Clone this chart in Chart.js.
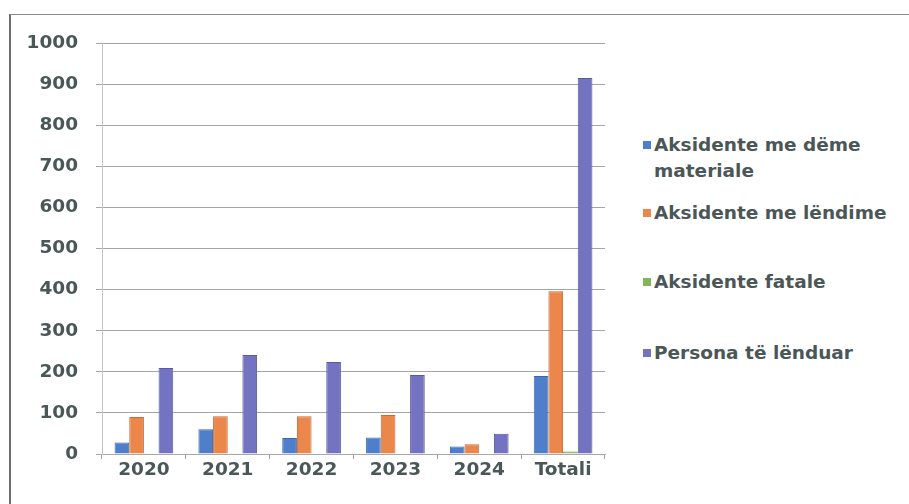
<!DOCTYPE html>
<html>
<head>
<meta charset="utf-8">
<script src="https://cdn.jsdelivr.net/npm/chart.js@4"></script>
<style>
  html, body { margin: 0; padding: 0; background: #ffffff; }
  body { width: 909px; height: 504px; position: relative; overflow: hidden; font-family: "DejaVu Sans", sans-serif; }
  #frame { position: absolute; left: 9px; top: 14px; width: 910px; height: 510px; border-left: 2px solid #6e6e6e; border-top: 1.5px solid #8a8a8a; box-sizing: border-box; }
  #wrap { position: absolute; left: 0; top: 0; width: 625px; height: 504px; }
  #legend { position: absolute; left: 643px; top: 0; }
  .item { position: absolute; left: 0; white-space: nowrap; color: #4b5757; font-weight: bold; font-size: 18.5px; line-height: 26px; }
  .sw { position: absolute; left: 0; top: 9px; width: 8px; height: 8px; }
  .tx { position: absolute; left: 11px; top: 0; }
</style>
</head>
<body>
<div id="frame"></div>
<div id="wrap"><canvas id="c"></canvas></div>
<div id="legend"></div>
<script>
const categories = ["2020", "2021", "2022", "2023", "2024", "Totali"];
const demeMateriale = [28, 60, 39, 40, 18, 190];
const meLendime = [90, 92, 92, 95, 24, 396];
const fatale = [2, 2, 1, 1, 0, 6];
const personaLenduar = [209, 241, 224, 192, 49, 915];
const seriesNames = [["Aksidente me dëme", "materiale"], ["Aksidente me lëndime"], ["Aksidente fatale"], ["Persona të lënduar"]];
const yTicks = [0, 100, 200, 300, 400, 500, 600, 700, 800, 900, 1000];

const colors = ["#4f7fcb", "#ec874c", "#86b45a", "#7373c2"];
const borders = ["#3d68a8", "#c96a35", "#6a9444", "#5a5aa3"];
const seriesData = [demeMateriale, meLendime, fatale, personaLenduar];

const tickFont = { family: 'DejaVu Sans', size: 18.5, weight: 'bold' };
const ctx = document.getElementById('c');
new Chart(ctx, {
  type: 'bar',
  data: {
    labels: categories,
    datasets: seriesData.map((d, i) => ({
      label: seriesNames[i].join(' '),
      data: d,
      backgroundColor: colors[i],
      borderColor: borders[i],
      borderWidth: 1,
      categoryPercentage: 0.7,
      barPercentage: 1.0
    }))
  },
  options: {
    responsive: true,
    maintainAspectRatio: false,
    animation: false,
    layout: { padding: { left: 0, top: 43, right: 20, bottom: 0 } },
    plugins: { legend: { display: false }, tooltip: { enabled: false } },
    scales: {
      x: {
        grid: { drawOnChartArea: false, drawTicks: true, tickLength: 5, offset: true, color: '#a0a0a0' },
        border: { color: '#a8a8a8', width: 1 },
        ticks: { color: '#4b5757', font: tickFont, padding: 0, maxRotation: 0 },
        afterFit: (s) => { s.height = 50; }
      },
      y: {
        min: 0, max: 1000,
        afterBuildTicks: (s) => { s.ticks = yTicks.map(v => ({ value: v })); },
        grid: { color: '#a6a6a6', lineWidth: 1, tickLength: 6 },
        border: { color: '#c4c4c4', width: 1 },
        ticks: { color: '#4b5757', font: tickFont, padding: 18, callback: (v) => String(v) },
        afterFit: (s) => { s.width = 102; }
      }
    }
  }
});

const legendTops = [132, 200, 269, 340];
const leg = document.getElementById('legend');
seriesNames.forEach((lines, i) => {
  const it = document.createElement('div');
  it.className = 'item';
  it.style.top = legendTops[i] + 'px';
  const sw = document.createElement('div');
  sw.className = 'sw';
  sw.style.background = colors[i];
  const tx = document.createElement('div');
  tx.className = 'tx';
  tx.innerHTML = lines.join('<br>');
  it.appendChild(sw); it.appendChild(tx);
  leg.appendChild(it);
});
</script>
</body>
</html>
